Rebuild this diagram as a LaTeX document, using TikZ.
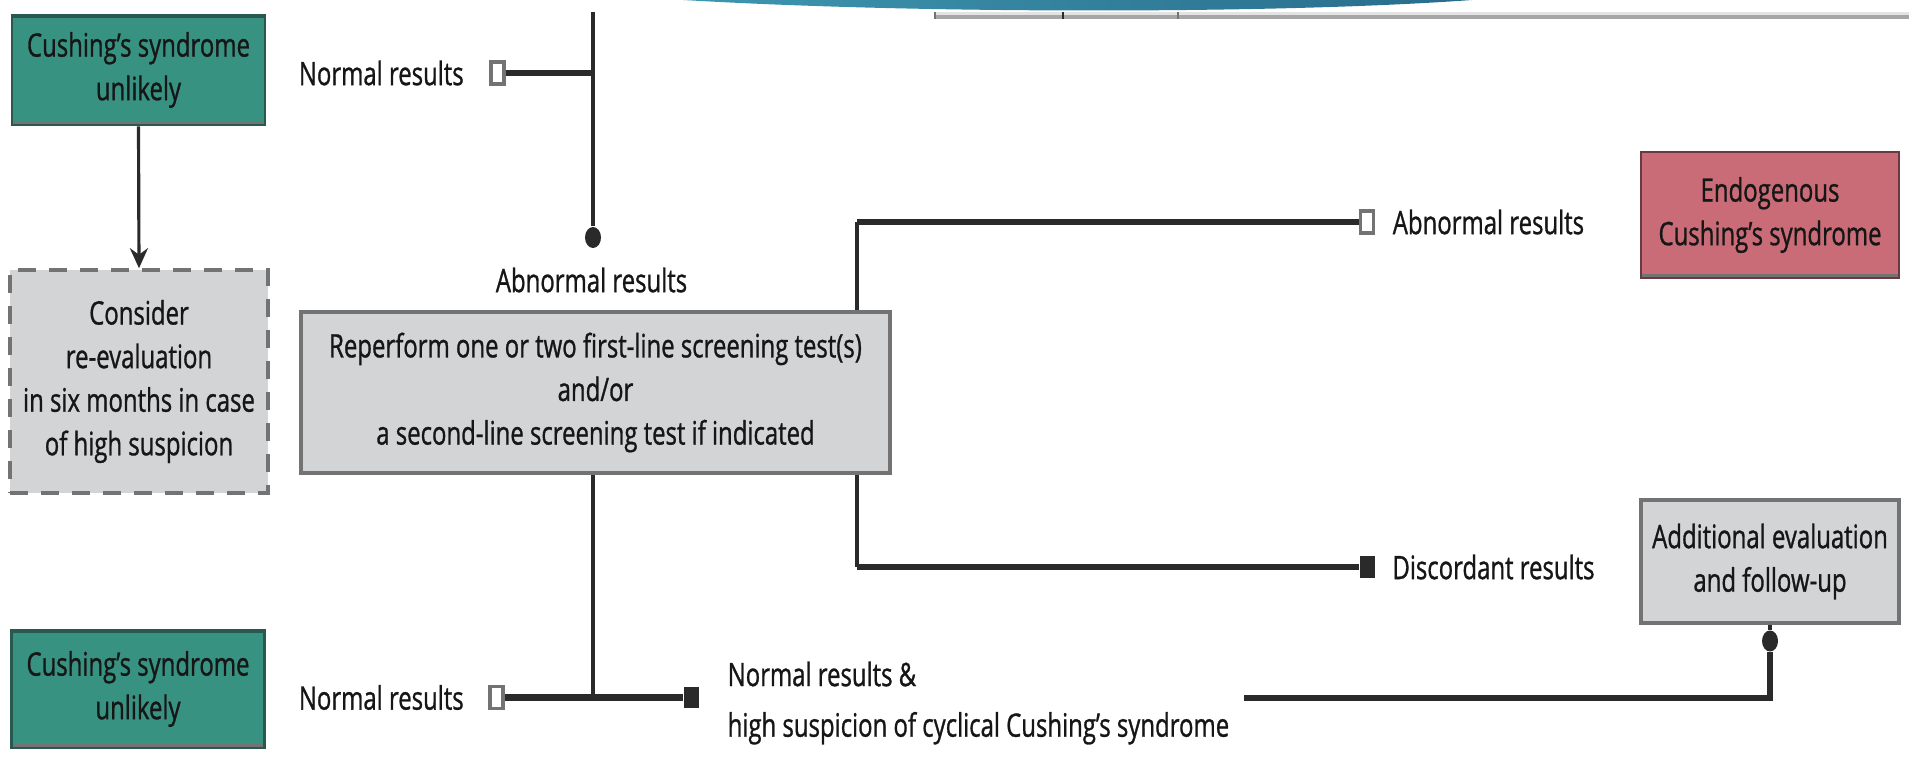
\documentclass[tikz,border=0pt]{standalone}
\usepackage{fontspec}
\setmainfont[FakeStretch=0.74,FakeBold=0.9]{Open Sans}
\usepackage{xcolor}
\usetikzlibrary{arrows.meta,positioning,backgrounds,shapes.geometric}

\definecolor{tealfill}{RGB}{56,146,129}
\definecolor{tealedge}{RGB}{40,88,78}
\definecolor{rosefill}{RGB}{201,108,119}
\definecolor{roseedge}{RGB}{105,58,64}
\definecolor{boxgray}{RGB}{211,212,214}
\definecolor{edgegray}{RGB}{115,115,115}
\definecolor{linecol}{RGB}{42,42,42}
\definecolor{txtcol}{RGB}{22,22,22}
\definecolor{swoopA}{RGB}{62,150,175}
\definecolor{swoopB}{RGB}{40,108,140}

\newcommand{\boxfont}{\fontsize{9.2}{12.4}\selectfont}

\begin{document}
\begin{tikzpicture}[
    box/.style={align=center, inner sep=0pt, text=txtcol, font=\boxfont, line width=0.8pt},
    greenbox/.style={box, fill=tealfill, draw=tealedge, minimum width=2.53cm, minimum height=1.1cm,
      path picture={
        \draw[tealedge, line width=1.6pt] (path picture bounding box.north west) -- (path picture bounding box.north east);
        \draw[edgegray, line width=2.2pt] (path picture bounding box.south west) -- (path picture bounding box.south east);}},
    rosebox/.style={box, fill=rosefill, draw=roseedge, minimum width=2.58cm, minimum height=1.26cm,
      path picture={
        \draw[edgegray, line width=2.2pt] (path picture bounding box.south west) -- (path picture bounding box.south east);}},
    graybox/.style={box, fill=boxgray, draw=edgegray, line width=0.9pt},
    dashbox/.style={box, fill=boxgray, draw=edgegray, line width=1pt, dash pattern=on 0.18cm off 0.13cm,
      minimum width=2.58cm, minimum height=2.23cm},
    lbl/.style={inner sep=0pt, text=txtcol, font=\boxfont},
    openend/.style={draw=edgegray, fill=white, line width=0.9pt, minimum width=0.13cm, minimum height=0.22cm, inner sep=0pt},
    fillend/.style={fill=linecol, minimum width=0.15cm, minimum height=0.21cm, inner sep=0pt},
    dotend/.style={ellipse, fill=linecol, minimum width=0.16cm, minimum height=0.21cm, inner sep=0pt},
    hline/.style={draw=linecol, line width=1.9pt},
    vline/.style={draw=linecol, line width=1.2pt},
  ]
  \useasboundingbox (0,0) rectangle (19.09,-7.57);

  % cut-off page furniture at the top
  \shade[left color=swoopA, right color=swoopB] (6.83,0) .. controls (9.2,-0.14) and (12.8,-0.14) .. (14.72,0) -- cycle;
  \fill[gray!22] (9.34,-0.12) rectangle (19.09,-0.155);
  \fill[gray!70] (9.34,-0.155) rectangle (19.09,-0.19);
  \draw[edgegray, line width=0.6pt] (9.35,-0.12) -- (9.35,-0.19);
  \draw[linecol, line width=0.6pt] (10.63,-0.12) -- (10.63,-0.19);
  \draw[edgegray, line width=0.8pt] (11.78,-0.12) -- (11.78,-0.19);

  % boxes
  \node[greenbox] (unlikelyA) at (1.385,-0.70) {Cushing's syndrome\\unlikely};
  \node[dashbox] (consider) at (1.39,-3.815) {Consider\\re-evaluation\\in six months in case\\of high suspicion};
  \node[graybox, minimum width=5.89cm, minimum height=1.61cm] (reperform) at (5.955,-3.925)
    {Reperform one or two first-line screening test(s)\\and/or\\a second-line screening test if indicated};
  \node[rosebox] (endogenous) at (17.70,-2.15) {Endogenous\\Cushing's syndrome};
  \node[graybox, minimum width=2.58cm, minimum height=1.23cm] (additional) at (17.70,-5.615)
    {Additional evaluation\\and follow-up};
  \node[greenbox, minimum height=1.18cm] (unlikelyB) at (1.38,-6.89) {Cushing's syndrome\\unlikely};

  % line ends
  \node[openend] (openA) at (4.975,-0.73) {};
  \node[dotend]  (dotA)  at (5.93,-2.375) {};
  \node[openend] (openB) at (13.67,-2.22) {};
  \node[fillend] (fillB) at (13.675,-5.67) {};
  \node[openend] (openC) at (4.965,-6.975) {};
  \node[fillend] (fillC) at (6.91,-6.975) {};
  \node[dotend]  (dotD)  at (17.70,-6.41) {};

  % labels
  \node[lbl, left=0.25cm of openA] (normA) {Normal results};
  \node[lbl] (abnA) at (5.915,-2.80) {Abnormal results};
  \node[lbl, right=0.17cm of openB] (abnB) {Abnormal results};
  \node[lbl, right=0.16cm of fillB] (discord) {Discordant results};
  \node[lbl, left=0.24cm of openC] (normC) {Normal results};
  \node[lbl, align=left, anchor=west] (cyclic) at (7.27,-7.03)
    {Normal results \&\\[2pt]high suspicion of cyclical Cushing's syndrome};

  \coordinate (topA) at (5.93,-0.12);
  \coordinate (jB) at (8.57,-2.22);
  \coordinate (jC) at (8.57,-5.67);
  \coordinate (jD) at (5.93,-6.975);
  \coordinate (cycEnd) at (12.44,-6.98);

  \draw[linecol, line width=0.9pt, -{Stealth[length=2mm, width=1.8mm]}] (unlikelyA.south) -- (consider.north);

  \begin{scope}[on background layer]
    \path[vline] (topA) -- (dotA);
    \path[hline] (openA) -- (openA -| dotA);
    \path[vline] (jD |- reperform.south) -- (jD);
    \path[hline] (openC) -- (fillC);
    \path[hline] (openB) -- (jB);
    \path[vline] (jB) -- (jC);
    \path[hline] (jC) -- (fillB);
    \path[hline] (cycEnd) -| (dotD);
    \path[vline] (dotD) -- (additional.south);
  \end{scope}
\end{tikzpicture}
\end{document}
